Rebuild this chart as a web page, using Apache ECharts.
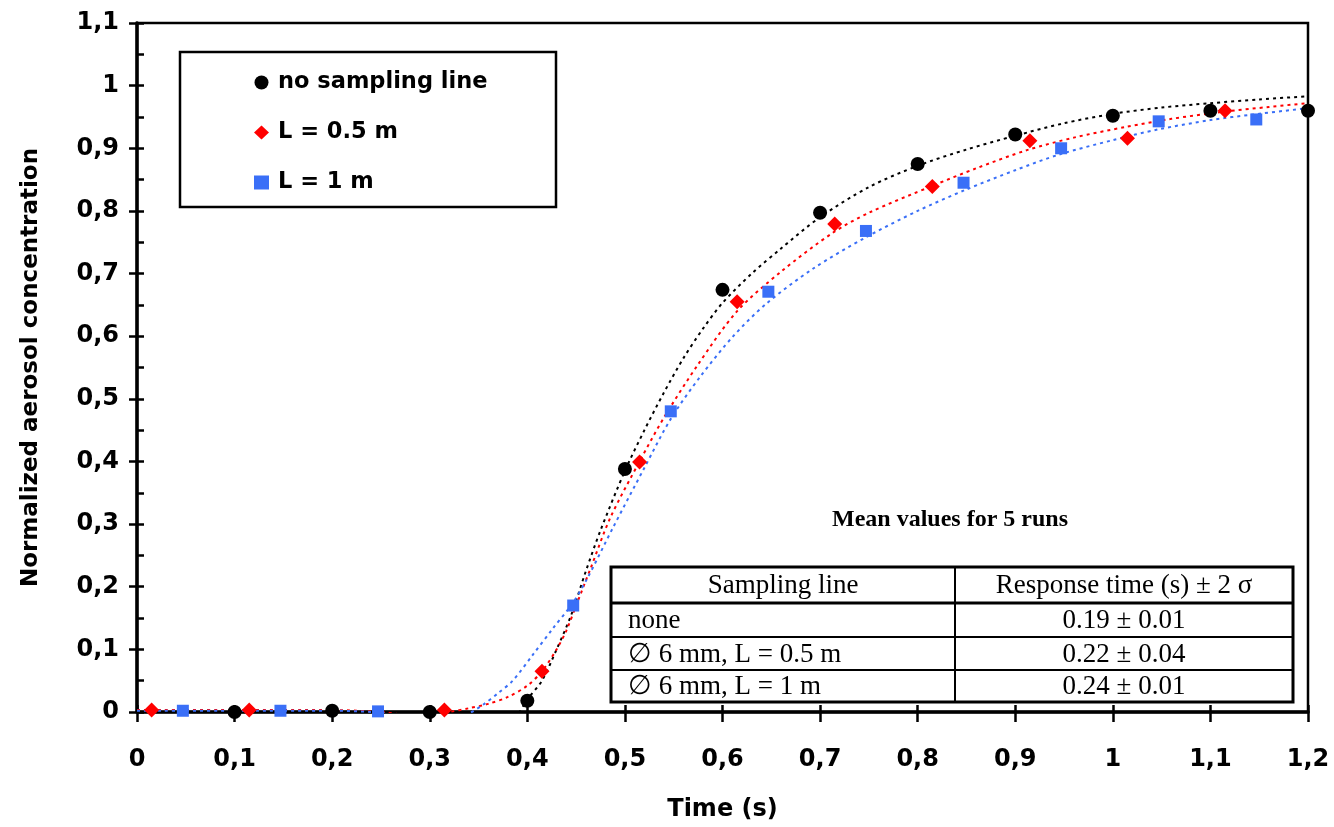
<!DOCTYPE html>
<html><head><meta charset="utf-8">
<script src="https://cdn.jsdelivr.net/npm/echarts@6/dist/echarts.min.js"></script>
<style>html,body{margin:0;padding:0;background:#fff}#c{width:1334px;height:827px}</style>
</head><body><div id="c"></div>
<script>
// Measured points
const seriesNames = ['no sampling line', 'L = 0.5 m', 'L = 1 m'];
const blackX = [0.1, 0.2, 0.3, 0.4, 0.5, 0.6, 0.7, 0.8, 0.9, 1.0, 1.1, 1.2];
const blackY = [0.0, 0.002, 0.0, 0.018, 0.388, 0.674, 0.797, 0.875, 0.922, 0.952, 0.960, 0.960];
const redX = [0.015, 0.115, 0.315, 0.415, 0.515, 0.615, 0.715, 0.815, 0.915, 1.015, 1.115];
const redY = [0.003, 0.003, 0.003, 0.065, 0.399, 0.655, 0.779, 0.839, 0.912, 0.916, 0.960];
const blueX = [0.047, 0.147, 0.247, 0.447, 0.547, 0.647, 0.747, 0.847, 0.947, 1.047, 1.147];
const blueY = [0.002, 0.002, 0.001, 0.170, 0.480, 0.671, 0.768, 0.845, 0.900, 0.943, 0.946];

// Trend curves
const blackCurveX = [0, 0.1, 0.2, 0.3, 0.32, 0.34, 0.36, 0.38, 0.39, 0.40, 0.415, 0.43, 0.445, 0.46, 0.475, 0.50, 0.52, 0.54, 0.56, 0.58, 0.60, 0.63, 0.66, 0.70, 0.75, 0.80, 0.85, 0.90, 0.95, 1.0, 1.05, 1.1, 1.15, 1.2];
const blackCurveY = [0, 0, 0, 0, -0.005, -0.03, -0.04, -0.025, -0.005, 0.02, 0.05, 0.10, 0.155, 0.225, 0.29, 0.385, 0.45, 0.51, 0.565, 0.612, 0.653, 0.70, 0.74, 0.79, 0.838, 0.872, 0.898, 0.92, 0.94, 0.955, 0.965, 0.972, 0.978, 0.983];
const redCurveX = [0, 0.1, 0.2, 0.25, 0.28, 0.3, 0.32, 0.34, 0.36, 0.38, 0.40, 0.415, 0.43, 0.44, 0.45, 0.465, 0.485, 0.515, 0.54, 0.575, 0.615, 0.66, 0.713, 0.75, 0.815, 0.86, 0.912, 0.96, 1.013, 1.06, 1.112, 1.16, 1.2];
const redCurveY = [0.003, 0.003, 0.003, 0.0, -0.005, -0.005, 0.0, 0.006, 0.013, 0.024, 0.042, 0.065, 0.10, 0.13, 0.17, 0.23, 0.31, 0.40, 0.47, 0.555, 0.64, 0.703, 0.765, 0.797, 0.84, 0.868, 0.897, 0.917, 0.934, 0.947, 0.958, 0.966, 0.972];
const blueCurveX = [0, 0.1, 0.2, 0.24, 0.27, 0.3, 0.32, 0.338, 0.355, 0.37, 0.385, 0.405, 0.426, 0.447, 0.461, 0.488, 0.52, 0.547, 0.577, 0.611, 0.645, 0.693, 0.746, 0.80, 0.848, 0.90, 0.945, 1.0, 1.046, 1.1, 1.144, 1.2];
const blueCurveY = [0.002, 0.002, 0.002, 0.0, -0.006, -0.012, -0.012, -0.004, 0.012, 0.03, 0.05, 0.09, 0.133, 0.175, 0.212, 0.295, 0.39, 0.468, 0.535, 0.60, 0.652, 0.708, 0.757, 0.80, 0.833, 0.865, 0.89, 0.913, 0.93, 0.945, 0.954, 0.964];

// Axis
const xMin = 0, xMax = 1.2, xStep = 0.1;
const yMin = 0, yMax = 1.1, yStep = 0.1;
const xTitle = 'Time (s)';
const yTitle = 'Normalized aerosol concentration';

// Inset table
const tableTitle = 'Mean values for 5 runs';
const tableHeader = ['Sampling line', 'Response time (s) \u00b1 2 \u03c3'];
const tableCol1 = ['none', '\u2205 6 mm, L = 0.5 m', '\u2205 6 mm, L = 1 m'];
const tableCol2 = ['0.19 \u00b1 0.01', '0.22 \u00b1 0.04', '0.24 \u00b1 0.01'];

const zip = (a, b) => a.map((v, i) => [v, b[i]]);
const fmt = v => String(Math.round(v * 10) / 10).replace('.', ',');
const SANS = "'DejaVu Sans', sans-serif";
const SERIF = "'Liberation Serif', 'Times New Roman', serif";

const chart = echarts.init(document.getElementById('c'), null, {renderer: 'canvas'});

// table graphic
const tL = 611, tR = 1293, tMid = 955, rowsY = [567, 603, 637, 670, 702];
const TF = '27px ' + SERIF;
const g = [];
g.push({type: 'rect', shape: {x: 180, y: 52, width: 376, height: 155}, style: {fill: 'none', stroke: '#000', lineWidth: 2.5}, z: 1});
g.push({type: 'text', style: {text: tableTitle, x: 950, y: 520, align: 'center', verticalAlign: 'middle', font: 'bold 24px ' + SERIF, fill: '#000'}});
g.push({type: 'rect', shape: {x: tL, y: rowsY[0], width: tR - tL, height: rowsY[4] - rowsY[0]}, style: {fill: '#fff', stroke: '#000', lineWidth: 3}});
g.push({type: 'line', shape: {x1: tL, y1: rowsY[1], x2: tR, y2: rowsY[1]}, style: {stroke: '#000', lineWidth: 3}});
g.push({type: 'line', shape: {x1: tL, y1: rowsY[2], x2: tR, y2: rowsY[2]}, style: {stroke: '#000', lineWidth: 2}});
g.push({type: 'line', shape: {x1: tL, y1: rowsY[3], x2: tR, y2: rowsY[3]}, style: {stroke: '#000', lineWidth: 2}});
g.push({type: 'line', shape: {x1: tMid, y1: rowsY[0], x2: tMid, y2: rowsY[4]}, style: {stroke: '#000', lineWidth: 2}});
g.push({type: 'text', style: {text: tableHeader[0], x: (tL + tMid) / 2, y: (rowsY[0] + rowsY[1]) / 2 + 1, align: 'center', verticalAlign: 'middle', font: TF, fill: '#000'}});
g.push({type: 'text', style: {text: tableHeader[1], x: (tMid + tR) / 2, y: (rowsY[0] + rowsY[1]) / 2 + 1, align: 'center', verticalAlign: 'middle', font: TF, fill: '#000'}});
tableCol1.forEach((t, i) => {
  const cy = (rowsY[i + 1] + rowsY[i + 2]) / 2 + 1;
  g.push({type: 'text', style: {text: t, x: tL + 17, y: cy, align: 'left', verticalAlign: 'middle', font: TF, fill: '#000'}});
  g.push({type: 'text', style: {text: tableCol2[i], x: (tMid + tR) / 2, y: cy, align: 'center', verticalAlign: 'middle', font: TF, fill: '#000'}});
});

const trend = (name, xs, ys, color) => ({
  type: 'line', name: name + ' fit', data: zip(xs, ys), showSymbol: false, symbol: 'none', smooth: 0.3,
  clip: true, silent: true, z: 2,
  lineStyle: {color: color, width: 2, type: [3, 4]}
});
const pts = (name, xs, ys, color, symbol, size) => ({
  type: 'scatter', name: name, data: zip(xs, ys), symbol: symbol, symbolSize: size, z: 5, clip: false,
  itemStyle: {color: color, opacity: 1}
});

chart.setOption({
  animation: false,
  backgroundColor: '#fff',
  grid: {left: 137, right: 26, top: 23, bottom: 112, show: true, borderColor: '#000', borderWidth: 2.5, backgroundColor: 'transparent'},
  legend: {
    orient: 'vertical', left: 249, top: 66, itemGap: 27, itemWidth: 15, itemHeight: 14,
    data: [{name: seriesNames[0], icon: 'circle'}, {name: seriesNames[1], icon: 'diamond'}, {name: seriesNames[2], icon: 'rect'}],
    textStyle: {fontFamily: SANS, fontWeight: 'bold', fontSize: 22.5, color: '#000', lineHeight: 23, padding: [0, 0, 0, 4]},
    selectedMode: false
  },
  xAxis: [{
    type: 'value', min: xMin, max: xMax, interval: xStep,
    axisLine: {show: true, onZero: false, lineStyle: {color: '#000', width: 3.5}},
    axisTick: {show: true, inside: false, length: 10, lineStyle: {color: '#000', width: 2.5}},
    axisLabel: {formatter: fmt, margin: 36, fontFamily: SANS, fontWeight: 'bold', fontSize: 24, color: '#000'},
    splitLine: {show: false},
    name: xTitle, nameLocation: 'middle', nameGap: 86,
    nameTextStyle: {fontFamily: SANS, fontWeight: 'bold', fontSize: 24, color: '#000'}
  }, {
    type: 'value', min: xMin, max: xMax, interval: xStep, position: 'bottom', offset: 0,
    axisLine: {show: false}, axisTick: {show: true, inside: true, length: 7, lineStyle: {color: '#000', width: 2.5}},
    axisLabel: {show: false}, splitLine: {show: false}
  }],
  yAxis: [{
    type: 'value', min: yMin, max: yMax, interval: yStep,
    axisLine: {show: true, onZero: false, lineStyle: {color: '#000', width: 3.5}},
    axisTick: {show: true, inside: false, length: 8, lineStyle: {color: '#000', width: 2.5}},
    axisLabel: {formatter: fmt, margin: 18, fontFamily: SANS, fontWeight: 'bold', fontSize: 24, color: '#000'},
    splitLine: {show: false},
    name: yTitle, nameLocation: 'middle', nameGap: 94, nameRotate: 90,
    nameTextStyle: {fontFamily: SANS, fontWeight: 'bold', fontSize: 23, color: '#000'}
  }, {
    type: 'value', min: yMin, max: yMax, interval: yStep, position: 'left', offset: 0,
    axisLine: {show: false}, axisTick: {show: true, inside: true, length: 7, lineStyle: {color: '#000', width: 2.5}},
    minorTick: {show: true, splitNumber: 2, length: 7, lineStyle: {color: '#000', width: 2.5}},
    axisLabel: {show: false}, splitLine: {show: false}
  }],
  series: [
    trend(seriesNames[0], blackCurveX, blackCurveY, '#000000'),
    trend(seriesNames[1], redCurveX, redCurveY, '#ff0000'),
    trend(seriesNames[2], blueCurveX, blueCurveY, '#3a6ff7'),
    pts(seriesNames[0], blackX, blackY, '#000000', 'circle', 14),
    pts(seriesNames[1], redX, redY, '#ff0000', 'diamond', 15),
    pts(seriesNames[2], blueX, blueY, '#3a6ff7', 'rect', 12)
  ],
  graphic: g
});
</script></body></html>
